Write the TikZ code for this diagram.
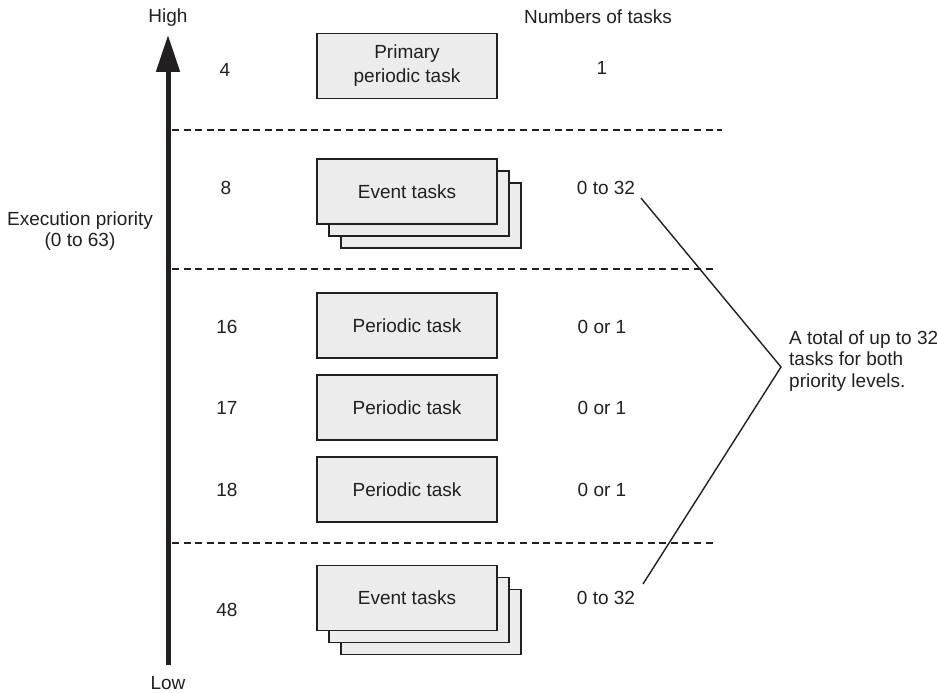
\documentclass[tikz,border=0pt]{standalone}
\usepackage{fontspec}
\setmainfont{Liberation Sans}
\usetikzlibrary{arrows.meta}
\definecolor{ink}{HTML}{231F20}
\definecolor{boxfill}{HTML}{ECECEC}
\tikzset{
  lbl/.style={text=ink, font=\fontsize{19}{21.5}\selectfont, inner sep=0pt},
  taskbox/.style={draw=ink, fill=boxfill, line width=1.5pt, minimum width=180pt, minimum height=65pt, inner sep=0pt, align=center, text=ink, font=\fontsize{19}{24}\selectfont},
  divider/.style={draw=ink, line width=1.2pt, dash pattern=on 7pt off 4.6pt},
  brace/.style={draw=ink, line width=1.4pt},
}
\begin{document}
\begin{tikzpicture}[x=1pt,y=-1pt]
\useasboundingbox (0,0) rectangle (937,693);
% axis
\coordinate (lowend) at (168,665);
\coordinate (highend) at (168,35);
\draw[ink, line width=5pt, -{Triangle[length=37pt,width=23pt]}] (lowend) -- (highend);
\node[lbl] (high) at (168,18) {High};
\node[lbl] (low) at (168,683) {Low};
\node[lbl, align=center] (exec) at (80,231) {Execution priority\\(0 to 63)};
% dividers
\coordinate (d1a) at (172,130); \coordinate (d1b) at (722,130);
\coordinate (d2a) at (172,269); \coordinate (d2b) at (716,269);
\coordinate (d3a) at (172,543); \coordinate (d3b) at (716,543);
\draw[divider] (d1a) -- (d1b);
\draw[divider] (d2a) -- (d2b);
\draw[divider] (d3a) -- (d3b);
% header
\node[lbl] (hdr) at (598,17) {Numbers of tasks};
% priority numbers
\node[lbl] (p4) at (225,70) {4};
\node[lbl] (p8) at (226,188) {8};
\node[lbl] (p16) at (227,327) {16};
\node[lbl] (p17) at (227,408) {17};
\node[lbl] (p18) at (227,490) {18};
\node[lbl] (p48) at (227,610) {48};
% boxes
\node[taskbox] (prim) at (407,66) {Primary\\periodic task};
\node[taskbox] (e8c) at (431,215.5) {};
\node[taskbox] (e8b) at (419,203.5) {};
\node[taskbox] (e8a) at (407,191.5) {Event tasks};
\node[taskbox] (per16) at (407,325.5) {Periodic task};
\node[taskbox] (per17) at (407,407.5) {Periodic task};
\node[taskbox] (per18) at (407,489.5) {Periodic task};
\node[taskbox] (e48c) at (431,622) {};
\node[taskbox] (e48b) at (419,610) {};
\node[taskbox] (e48a) at (407,598) {Event tasks};
% counts
\node[lbl] (n4) at (602,68) {1};
\node[lbl] (n8) at (606,188) {0 to 32};
\node[lbl] (n16) at (602,327) {0 or 1};
\node[lbl] (n17) at (602,408) {0 or 1};
\node[lbl] (n18) at (602,490) {0 or 1};
\node[lbl] (n48) at (606,598) {0 to 32};
% bracket
\coordinate (b1) at (641,198);
\coordinate (apex) at (781,367);
\coordinate (b2) at (643,584);
\draw[brace] (b1) -- (apex) -- (b2);
\node[lbl, anchor=west, align=left] (note) at (789,361) {A total of up to 32\\tasks for both\\priority levels.};
\end{tikzpicture}
\end{document}
